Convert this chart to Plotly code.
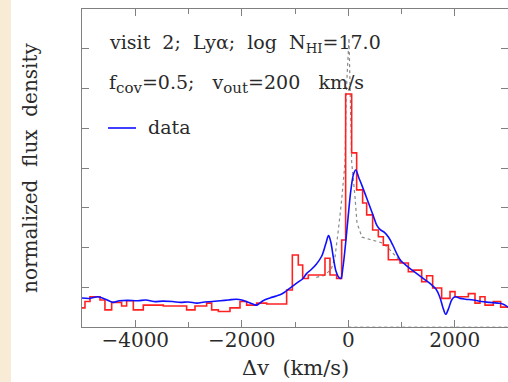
import plotly.graph_objects as go

# ---- data ----
blue_v = [-5000,-4850,-4700,-4560,-4420,-4300,-4150,-3950,-3800,-3650,-3480,-3300,-3150,-3000,-2840,-2700,-2550,-2400,-2250,-2100,-2000,-1880,-1780,-1720,-1600,-1470,-1350,-1250,-1150,-1050,-950,-850,-780,-700,-600,-500,-420,-370,-330,-280,-230,-180,-140,-100,-50,0,50,100,140,200,260,330,400,470,540,600,680,760,840,920,980,1060,1150,1250,1350,1450,1550,1650,1720,1780,1830,1880,1950,2010,2100,2200,2350,2500,2650,2800,2900,3000]
blue_f = [0.73,0.72,0.76,0.70,0.62,0.66,0.67,0.66,0.68,0.64,0.65,0.64,0.62,0.63,0.60,0.63,0.64,0.66,0.68,0.70,0.68,0.62,0.57,0.55,0.66,0.73,0.78,0.83,0.92,1.02,1.12,1.22,1.35,1.44,1.58,1.78,2.10,2.30,2.15,1.75,1.40,1.25,1.22,1.50,2.10,2.80,3.45,3.85,3.95,3.75,3.55,3.30,3.05,2.80,2.55,2.45,2.38,2.25,2.05,1.82,1.68,1.58,1.48,1.38,1.28,1.18,1.08,0.95,0.75,0.48,0.32,0.45,0.70,0.76,0.72,0.70,0.68,0.64,0.62,0.60,0.58,0.50]

red_edges = [-5000,-4944,-4850,-4662,-4569,-4443,-4256,-4162,-4036,-3849,-3473,-3035,-2878,-2659,-2565,-2440,-2221,-2033,-1908,-1720,-1532,-1157,-1050,-938,-856,-750,-437,-343,-218,-124,-49,64,158,270,346,458,565,659,753,972,1128,1222,1379,1472,1585,1754,1911,2005,2255,2380,2474,2568,2724,2862,3000]
red_f = [0.48,0.64,0.76,0.68,0.43,0.62,0.53,0.66,0.43,0.55,0.53,0.43,0.53,0.60,0.43,0.39,0.48,0.64,0.55,0.60,0.58,0.93,1.81,1.56,1.22,1.31,1.73,1.31,1.22,2.19,5.86,4.38,3.45,3.12,2.82,2.44,2.27,2.06,1.69,1.61,1.39,1.43,1.14,1.29,0.98,0.72,0.89,0.76,0.84,0.60,0.76,0.55,0.64,0.50]

model_v = [-600,-450,-320,-249,-186,-124,-61,-38,14,40,65,127,164,258,465,653,784,915,1000]
model_f = [1.25,1.30,1.45,1.76,2.44,3.19,4.13,5.89,7.27,5.89,4.13,3.27,2.62,2.26,2.19,2.11,1.94,1.74,1.62]

base_v = [0, 3000]
base_f = [0, 0]

x_ticks = [-4000, -2000, 0, 2000]
x_ticklabels = ["\u22124000", "\u22122000", "0", "2000"]

W, H = 508, 382
L, R, T, B = 82, 0, 9, 55
pw, ph = W - L - R, H - T - B

def px(x):
    return (x - L) / pw
def py(y):
    return 1 - (y - T) / ph

sp = "\u00a0\u00a0"
sp3 = "\u00a0\u00a0\u00a0"
def sub(s):
    return f"<sub><span style='font-size:15px'>{s}</span></sub>"

fig = go.Figure()
fig.add_trace(go.Scatter(x=base_v, y=base_f, mode="lines",
                         line=dict(color="#a0a0a0", width=1, dash="dot"), showlegend=False))
fig.add_trace(go.Scatter(x=model_v, y=model_f, mode="lines",
                         line=dict(color="#8a8a8a", width=1.2, dash="dot"), showlegend=False))
fig.add_trace(go.Scatter(x=red_edges, y=red_f + [red_f[-1]], mode="lines", line_shape="hv",
                         line=dict(color="#ff2020", width=1.6), showlegend=False))
fig.add_trace(go.Scatter(x=blue_v, y=blue_f, mode="lines", line_shape="spline",
                         line=dict(color="#1010ff", width=1.6), showlegend=False))

font = "DejaVu Serif"
txtcol = "#2a2a2a"
axcol = "#808080"

fig.update_xaxes(range=[-5000, 3000], tickvals=x_ticks, ticktext=x_ticklabels,
                 minor=dict(dtick=1000, ticks="inside", ticklen=5, tickcolor=axcol),
                 ticks="inside", ticklen=7, tickcolor=axcol, showgrid=False, zeroline=False,
                 showline=True, linecolor=axcol, linewidth=1.3, mirror="allticks",
                 tickfont=dict(family=font, size=20, color=txtcol), ticklabelstandoff=-5)
fig.update_yaxes(range=[0, 8], dtick=1, ticks="inside", ticklen=7, tickcolor=axcol,
                 showticklabels=False, showgrid=False, zeroline=False,
                 showline=True, linecolor=axcol, linewidth=1.3, mirror="allticks")

fig.add_shape(type="rect", xref="paper", yref="paper", x0=px(0), x1=px(11), y0=py(H), y1=py(0),
              fillcolor="#f9ecd6", line_width=0, layer="below")

ann = [
    dict(text=f"visit{sp}2;{sp}Ly\u03b1;{sp}log{sp}N<sub>HI</sub>=17.0", x=px(107), y=py(44)),
    dict(text=f"f{sub('cov')}=0.5;{sp3}v{sub('out')}=200{sp3}km/s", x=px(107), y=py(84)),
    dict(text="data", x=px(146), y=py(127)),
]
for a in ann:
    fig.add_annotation(text=a["text"], x=a["x"], y=a["y"], xref="paper", yref="paper",
                       xanchor="left", yanchor="middle", showarrow=False,
                       font=dict(family=font, size=19, color=txtcol))
fig.add_shape(type="line", xref="paper", yref="paper", x0=px(108), x1=px(136), y0=py(128), y1=py(128),
              line=dict(color="#1010ff", width=1.6))

fig.add_annotation(text=f"normalized{sp}flux{sp}density", x=px(30), y=py(168), xref="paper", yref="paper",
                   textangle=-90, showarrow=False, xanchor="center", yanchor="middle",
                   font=dict(family=font, size=20, color=txtcol))
fig.add_annotation(text=f"\u0394v{sp}(km/s)", x=px(295), y=py(368), xref="paper", yref="paper",
                   showarrow=False, xanchor="center", yanchor="middle",
                   font=dict(family=font, size=21, color=txtcol))

fig.update_layout(width=W, height=H, margin=dict(l=L, r=R, t=T, b=B),
                  paper_bgcolor="white", plot_bgcolor="white", showlegend=False)
fig.write_html("out.html")
